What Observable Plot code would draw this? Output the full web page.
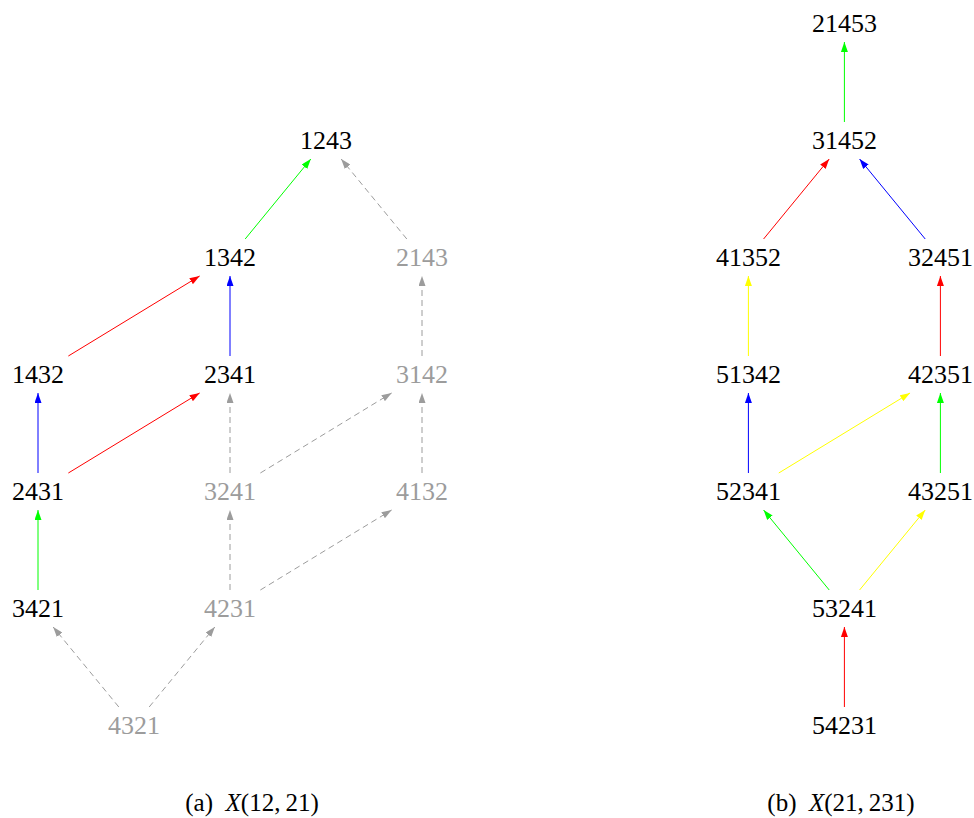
<!DOCTYPE html>
<html>
<head>
<meta charset="utf-8">
<script src="https://cdn.jsdelivr.net/npm/d3@7"></script>
<script src="https://cdn.jsdelivr.net/npm/@observablehq/plot@0.6"></script>
<style>
  body { margin: 0; background: #fff; }
  #wrap { position: relative; width: 974px; }
  #caps { position: relative; width: 974px; height: 48px; }
  .cap { position: absolute; top: 20px; font-family: "Liberation Serif"; font-size: 25px; line-height: 25px; transform: translateX(-50%); white-space: nowrap; color: #000; }
</style>
</head>
<body>
<div id="wrap"></div>
<div id="caps">
  <div class="cap" style="left:252px">(a)&nbsp; <i>X</i>(12,&#8201;21)</div>
  <div class="cap" style="left:841px">(b)&nbsp; <i>X</i>(21,&#8201;231)</div>
</div>
<script>
// ---------- Panel (a): X(12, 21) ----------
const labelsA = ["1243", "1342", "2143", "1432", "2341", "3142", "2431", "3241", "4132", "3421", "4231", "4321"];
const colA    = [1.5,    1,      2,      0,      1,      2,      0,      1,      2,      0,      1,      0.5];
const levelA  = [5,      4,      4,      3,      3,      3,      2,      2,      2,      1,      1,      0];
const mutedA  = [false,  false,  true,   false,  false,  true,   false,  true,   true,   false,  true,   true];
// [from, to, colour] ; "gray" edges are dashed
const edgesA = [
  ["1342", "1243", "lime"],
  ["2143", "1243", "gray"],
  ["1432", "1342", "red"],
  ["2341", "1342", "blue"],
  ["3142", "2143", "gray"],
  ["2431", "1432", "blue"],
  ["2431", "2341", "red"],
  ["3241", "2341", "gray"],
  ["3241", "3142", "gray"],
  ["4132", "3142", "gray"],
  ["3421", "2431", "lime"],
  ["4231", "3241", "gray"],
  ["4231", "4132", "gray"],
  ["4321", "3421", "gray"],
  ["4321", "4231", "gray"]
];

// ---------- Panel (b): X(21, 231) ----------
const labelsB = ["21453", "31452", "41352", "32451", "51342", "42351", "52341", "43251", "53241", "54231"];
const colB    = [0.5,     0.5,     0,       1,       0,       1,       0,       1,       0.5,     0.5];
const levelB  = [6,       5,       4,       4,       3,       3,       2,       2,       1,       0];
const mutedB  = [false,   false,   false,   false,   false,   false,   false,   false,   false,   false];
const edgesB = [
  ["31452", "21453", "lime"],
  ["41352", "31452", "red"],
  ["32451", "31452", "blue"],
  ["51342", "41352", "yellow"],
  ["42351", "32451", "red"],
  ["52341", "51342", "blue"],
  ["52341", "42351", "yellow"],
  ["43251", "42351", "lime"],
  ["53241", "52341", "lime"],
  ["53241", "43251", "yellow"],
  ["54231", "53241", "red"]
];

const panelOffset = {a: 0, b: 3.7};
const GRAY = "#9c9c9c";
const colorMap = {lime: "#00ff00", red: "#ff0000", blue: "#0000ff", yellow: "#ffff00", gray: GRAY};

// ---------- build tables ----------
function buildPanel(panel, labels, cols, levels, muted, edges) {
  const byLabel = new Map();
  const nodes = labels.map((label, i) => {
    const n = {panel, label, x: panelOffset[panel] + cols[i], y: levels[i], muted: muted[i]};
    byLabel.set(label, n);
    return n;
  });
  const links = edges.map(([f, t, c]) => {
    const a = byLabel.get(f), b = byLabel.get(t);
    return {x1: a.x, y1: a.y, x2: b.x, y2: b.y, fromLen: f.length, toLen: t.length,
            color: colorMap[c], dashed: c === "gray"};
  });
  return {nodes, links};
}
const A = buildPanel("a", labelsA, colA, levelA, mutedA, edgesA);
const B = buildPanel("b", labelsB, colB, levelB, mutedB, edgesB);
const nodes = [...A.nodes, ...B.nodes];
const links = [...A.links, ...B.links];

// ---------- clip edges to label boxes, add filled arrow heads ----------
const HALF_H = 18.5;
const halfW = (len) => len * 6.6 + 4;
function clipRender(index, scales, values, dims, ctx, next) {
  const {x1, y1, x2, y2} = values;
  const X1 = Float64Array.from(x1), Y1 = Float64Array.from(y1);
  const X2 = Float64Array.from(x2), Y2 = Float64Array.from(y2);
  for (const i of index) {
    const dx = x2[i] - x1[i], dy = y2[i] - y1[i];
    const d = links[i];
    const tS = Math.min(dx ? halfW(d.fromLen) / Math.abs(dx) : Infinity, dy ? HALF_H / Math.abs(dy) : Infinity);
    const tE = Math.min(dx ? halfW(d.toLen) / Math.abs(dx) : Infinity, dy ? HALF_H / Math.abs(dy) : Infinity);
    X1[i] = x1[i] + dx * tS; Y1[i] = y1[i] + dy * tS;
    X2[i] = x2[i] - dx * tE; Y2[i] = y2[i] - dy * tE;
  }
  const g = next(index, scales, {...values, x1: X1, y1: Y1, x2: X2, y2: Y2}, dims, ctx);
  d3.select(g).selectAll("path").each(function () {
    const c = this.getAttribute("stroke") || g.getAttribute("stroke") || "";
    this.setAttribute("marker-end", `url(#ah-${c.replace(/[^a-z0-9]/gi, "")})`);
  });
  return g;
}

const svg = Plot.plot({
  width: 974,
  height: 770,
  margin: 0,
  style: {background: "#fff"},
  x: {domain: [0, 2], range: [37.5, 421.5], axis: null},
  y: {domain: [0, 6], range: [725, 23], axis: null},
  marks: [
    Plot.link(links, {
      filter: (d) => !d.dashed,
      x1: "x1", y1: "y1", x2: "x2", y2: "y2",
      stroke: "color", strokeWidth: 1,
      render: clipRender
    }),
    Plot.link(links, {
      filter: (d) => d.dashed,
      x1: "x1", y1: "y1", x2: "x2", y2: "y2",
      stroke: "color", strokeWidth: 1, strokeDasharray: "6,4",
      render: clipRender
    }),
    Plot.text(nodes, {
      x: "x", y: "y", text: "label",
      fill: (d) => d.muted ? GRAY : "#000000",
      fontSize: 26,
      fontFamily: "Liberation Serif"
    })
  ]
});

d3.select(svg).selectAll("text").style("font-family", "'Liberation Serif'");

const defs = d3.select(svg).insert("defs", ":first-child");
for (const c of Object.values(colorMap)) {
  defs.append("marker")
    .attr("id", `ah-${c.replace(/[^a-z0-9]/gi, "")}`)
    .attr("viewBox", "0 0 10 7")
    .attr("refX", 10).attr("refY", 3.5)
    .attr("markerWidth", 10).attr("markerHeight", 7)
    .attr("markerUnits", "userSpaceOnUse")
    .attr("orient", "auto")
    .append("path").attr("d", "M0,0L10,3.5L0,7Z").attr("fill", c);
}
document.getElementById("wrap").appendChild(svg);
</script>
</body>
</html>
